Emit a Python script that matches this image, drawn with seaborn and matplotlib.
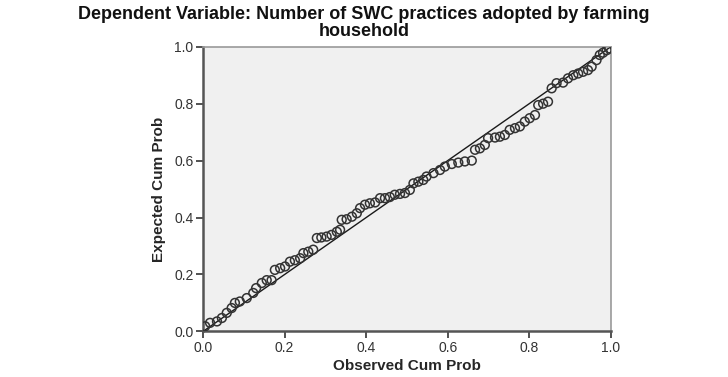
import matplotlib
matplotlib.use("Agg")
import matplotlib.pyplot as plt
import seaborn as sns

# P-P plot values (observed vs expected cumulative prob)
observed_cum_prob = [
    0.005, 0.017, 0.034, 0.046, 0.058, 0.070, 0.078, 0.090, 0.107, 0.123,
    0.130, 0.144, 0.156, 0.168, 0.176, 0.189, 0.201, 0.213, 0.225, 0.238,
    0.246, 0.258, 0.270, 0.279, 0.290, 0.303, 0.315, 0.328, 0.336, 0.340,
    0.352, 0.365, 0.377, 0.385, 0.397, 0.409, 0.422, 0.434, 0.446, 0.458,
    0.470, 0.483, 0.495, 0.507, 0.516, 0.528, 0.540, 0.548, 0.565, 0.581,
    0.593, 0.610, 0.626, 0.642, 0.659, 0.667, 0.679, 0.691, 0.699, 0.716,
    0.728, 0.740, 0.752, 0.765, 0.777, 0.789, 0.801, 0.814, 0.822, 0.834,
    0.846, 0.855, 0.867, 0.883, 0.895, 0.908, 0.920, 0.932, 0.944, 0.953,
    0.965, 0.973, 0.981, 0.990, 0.996,
]
expected_cum_prob = [
    0.018, 0.030, 0.035, 0.047, 0.065, 0.082, 0.100, 0.105, 0.117, 0.135,
    0.152, 0.170, 0.180, 0.180, 0.216, 0.222, 0.228, 0.245, 0.250, 0.257,
    0.275, 0.280, 0.287, 0.328, 0.330, 0.333, 0.339, 0.350, 0.357, 0.392,
    0.394, 0.403, 0.415, 0.433, 0.445, 0.450, 0.453, 0.468, 0.468, 0.472,
    0.480, 0.483, 0.486, 0.497, 0.520, 0.526, 0.532, 0.544, 0.556, 0.567,
    0.579, 0.588, 0.593, 0.597, 0.600, 0.638, 0.643, 0.655, 0.679, 0.681,
    0.684, 0.690, 0.708, 0.714, 0.720, 0.737, 0.749, 0.760, 0.795, 0.800,
    0.807, 0.854, 0.872, 0.874, 0.889, 0.900, 0.906, 0.912, 0.918, 0.930,
    0.953, 0.971, 0.979, 0.988, 0.994,
]
diag = [0.0, 1.0]
tick_vals = [0.0, 0.2, 0.4, 0.6, 0.8, 1.0]
tick_labels = ["0.0", "0.2", "0.4", "0.6", "0.8", "1.0"]

TITLE_1 = "Dependent Variable: Number of SWC practices adopted by farming"
TITLE_2 = "household"

sns.set_style("ticks")
plt.rcParams["font.family"] = ["Liberation Sans", "DejaVu Sans"]

fig = plt.figure(figsize=(7.28, 3.77), dpi=100)
ax = fig.add_axes([0.279, 0.121, 0.560, 0.755])
ax.set_facecolor("#f0f0f0")

sns.lineplot(x=diag, y=diag, ax=ax, color="#1a1a1a", linewidth=1.0, zorder=2)
sns.scatterplot(x=observed_cum_prob, y=expected_cum_prob, ax=ax,
                marker="o", s=40, facecolors="none", edgecolor="#333333",
                linewidth=1.1, zorder=3)

ax.set_xlim(0, 1)
ax.set_ylim(0, 1)
ax.set_xticks(tick_vals)
ax.set_xticklabels(tick_labels)
ax.set_yticks(tick_vals)
ax.set_yticklabels(tick_labels)
ax.tick_params(direction="out", length=5, width=1.2, colors="#333333",
               labelsize=10, labelcolor="#333333", pad=2)

for side in ["left", "bottom"]:
    ax.spines[side].set_color("#555555")
    ax.spines[side].set_linewidth(1.8)
for side in ["top", "right"]:
    ax.spines[side].set_visible(True)
    ax.spines[side].set_color("#999999")
    ax.spines[side].set_linewidth(1.2)

ax.set_xlabel("Observed Cum Prob", fontsize=11, fontweight="bold", labelpad=3)
ax.set_ylabel("Expected Cum Prob", fontsize=11, fontweight="bold", labelpad=6)

# two title lines placed separately so they don't collide
fig.text(0.5, 1 - 19 / 377, TITLE_1, ha="center", va="baseline",
         fontsize=13, fontweight="bold", color="#111111")
fig.text(0.5, 1 - 36 / 377, TITLE_2, ha="center", va="baseline",
         fontsize=13, fontweight="bold", color="#111111")

fig.savefig("out.png", dpi=100)
